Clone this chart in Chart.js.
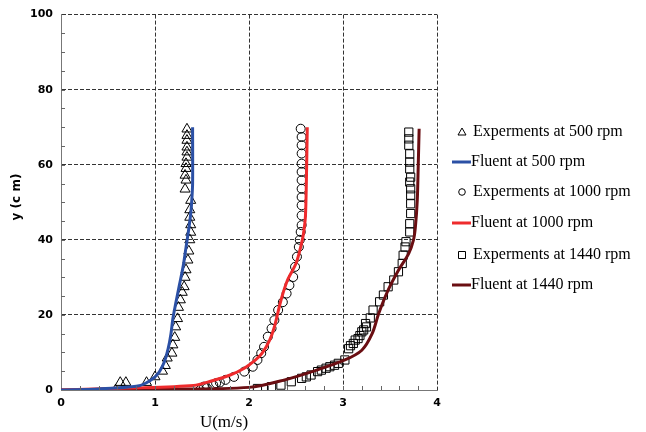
<!DOCTYPE html>
<html>
<head>
<meta charset="utf-8">
<script src="https://cdn.jsdelivr.net/npm/chart.js@4/dist/chart.umd.min.js"></script>
<style>
  body { margin: 0; background: #fff; }
  canvas { display: block; }
</style>
</head>
<body>
<canvas id="chart" width="646" height="432"></canvas>
<script>
// 값은 그림에서 읽은 추정치 (x: U m/s, y: cm)
const exp500X = [0.58, 0.63, 0.69, 0.91, 1.0, 1.08, 1.11, 1.13, 1.18, 1.19, 1.21, 1.22, 1.24, 1.25, 1.27, 1.29, 1.31, 1.32, 1.33, 1.35, 1.36, 1.37, 1.38, 1.38, 1.37, 1.37, 1.38, 1.32, 1.33, 1.32, 1.33, 1.33, 1.34, 1.34, 1.34, 1.34, 1.34, 1.34];
const exp500Y = [0, 2, 2, 2, 3.5, 5, 6.5, 8.5, 9.8, 12, 14, 16.8, 19, 22, 24, 26, 27.5, 30, 32, 34.6, 37, 40, 42, 44, 46, 48, 50.5, 53.5, 55.9, 57.2, 59, 60.3, 62, 63.4, 64.7, 66.5, 67.8, 69.5];

const cfd500X = [0, 0.4, 0.8, 0.9, 1.0, 1.05, 1.1, 1.14, 1.17, 1.19, 1.22, 1.26, 1.3, 1.33, 1.36, 1.38, 1.39, 1.4, 1.4];
const cfd500Y = [0, 0.3, 1, 1.8, 3.5, 5, 7.5, 11, 15, 19, 23, 28, 33, 38, 43, 47, 50, 55, 70];

const exp1000X = [1.48, 1.52, 1.55, 1.62, 1.65, 1.69, 1.75, 1.84, 1.95, 2.04, 2.09, 2.13, 2.16, 2.2, 2.24, 2.27, 2.31, 2.36, 2.4, 2.43, 2.47, 2.49, 2.51, 2.53, 2.54, 2.55, 2.56, 2.56, 2.56, 2.56, 2.56, 2.56, 2.56, 2.56, 2.56, 2.56, 2.56, 2.55];
const exp1000Y = [0, 0.9, 0.5, 1.3, 1.8, 2, 2.7, 3.5, 4.9, 6.2, 8, 9.8, 11.5, 14.2, 16.4, 18.6, 21.3, 23.4, 25.7, 27.9, 30.1, 32.8, 35.5, 38.1, 40, 42.1, 43.9, 46.5, 49.2, 51.4, 53.6, 55.9, 58.1, 60.3, 63, 65.2, 67.4, 69.6];

const cfd1000X = [0, 0.7, 1.41, 1.6, 1.8, 1.95, 2.07, 2.14, 2.22, 2.27, 2.34, 2.41, 2.5, 2.55, 2.58, 2.6, 2.61, 2.62];
const cfd1000Y = [0, 0.5, 1.2, 2.4, 4, 5.8, 8, 9.8, 13.3, 16.8, 23.9, 29.3, 33.7, 38.1, 41.7, 46.1, 55, 70];

const exp1440X = [2.09, 2.24, 2.34, 2.45, 2.56, 2.61, 2.66, 2.73, 2.77, 2.82, 2.86, 2.91, 2.95, 3.02, 3.06, 3.08, 3.11, 3.13, 3.16, 3.18, 3.2, 3.22, 3.25, 3.24, 3.29, 3.32, 3.39, 3.43, 3.48, 3.54, 3.59, 3.63, 3.64, 3.66, 3.67, 3.71, 3.71, 3.72, 3.72, 3.72, 3.72, 3.71, 3.72, 3.71, 3.71, 3.71, 3.7, 3.7, 3.7];
const exp1440Y = [0.4, 0.9, 1.3, 2.2, 3.1, 3.5, 4, 4.9, 5.3, 5.8, 6.2, 6.6, 7.1, 8, 11, 11.8, 12.4, 13.3, 13.7, 14.5, 15.5, 16, 16.8, 17.7, 19.2, 21.3, 23.5, 25.3, 27.5, 29.3, 31.5, 33.7, 35.9, 38.1, 39.5, 42.1, 44.3, 47, 49.6, 51.9, 53.6, 55.4, 56.7, 58.9, 60.7, 62.9, 65.2, 66.9, 68.7];

const cfd1440X = [0, 1.0, 2.0, 2.38, 2.72, 3.02, 3.2, 3.31, 3.38, 3.48, 3.59, 3.7, 3.75, 3.77, 3.79, 3.8, 3.81];
const cfd1440Y = [0, 0.2, 0.7, 2.7, 5.3, 8, 10.6, 15, 20.4, 26.6, 31.9, 36.4, 40, 43.4, 50.5, 59.4, 69.6];

const xTicks = [0, 1, 2, 3, 4];
const yTicks = [0, 20, 40, 60, 80, 100];

const seriesLabels = [
    'Experments at 500 rpm',
    'Fluent at 500 rpm',
    'Experments at 1000 rpm',
    'Fluent at 1000 rpm',
    'Experments at 1440 rpm',
    'Fluent at 1440 rpm'
];

const BLUE = '#2b50a5';
const RED = '#ee2b2d';
const DARK = '#6a0e12';

function toPoints(xs, ys) {
    return xs.map((x, i) => ({ x: x, y: ys[i] }));
}

function markerSet(label, xs, ys, style, r) {
    return {
        label: label,
        data: toPoints(xs, ys),
        showLine: false,
        pointStyle: style,
        pointRadius: r,
        pointBorderWidth: 1,
        pointBorderColor: '#000',
        pointBackgroundColor: 'rgba(255,255,255,0)',
        order: 2
    };
}

function lineSet(label, xs, ys, color) {
    return {
        label: label,
        data: toPoints(xs, ys),
        showLine: true,
        borderColor: color,
        borderWidth: 3,
        tension: 0.3,
        pointRadius: 0,
        order: 1
    };
}

const datasets = [
    markerSet(seriesLabels[0], exp500X, exp500Y, 'triangle', 5.8),
    lineSet(seriesLabels[1], cfd500X, cfd500Y, BLUE),
    markerSet(seriesLabels[2], exp1000X, exp1000Y, 'circle', 4.5),
    lineSet(seriesLabels[3], cfd1000X, cfd1000Y, RED),
    markerSet(seriesLabels[4], exp1440X, exp1440Y, 'rect', 5.8),
    lineSet(seriesLabels[5], cfd1440X, cfd1440Y, DARK)
];

// 보조 눈금, 축 제목, 범례 직접 그림
const extras = {
    id: 'extras',
    afterDraw(chart) {
        const { ctx, chartArea, scales } = chart;
        ctx.save();
        ctx.strokeStyle = '#666';
        ctx.lineWidth = 1;
        for (let v = 5; v < 100; v += 5) {
            const py = Math.round(scales.y.getPixelForValue(v)) + 0.5;
            ctx.beginPath();
            ctx.moveTo(chartArea.left, py);
            ctx.lineTo(chartArea.left + 4, py);
            ctx.stroke();
        }
        for (let i = 1; i < 20; i++) {
            const px = Math.round(scales.x.getPixelForValue(i * 0.2)) + 0.5;
            ctx.beginPath();
            ctx.moveTo(px, chartArea.bottom);
            ctx.lineTo(px, chartArea.bottom - 4);
            ctx.stroke();
        }

        // 축 제목
        ctx.fillStyle = '#000';
        ctx.font = '17px "Liberation Serif"';
        ctx.textAlign = 'center';
        ctx.textBaseline = 'middle';
        ctx.fillText('U(m/s)', 224, 423);

        ctx.save();
        ctx.translate(17, 197);
        ctx.rotate(-Math.PI / 2);
        ctx.font = 'bold 12px "DejaVu Sans"';
        ctx.fillText('y (c m)', 0, 0);
        ctx.restore();

        // 범례
        const rowY = [132, 162, 192, 223, 255, 285];
        ctx.font = '16px "Liberation Serif"';
        ctx.textAlign = 'left';
        chart.data.datasets.forEach((ds, i) => {
            const y = rowY[i];
            if (ds.showLine) {
                ctx.strokeStyle = ds.borderColor;
                ctx.lineWidth = 3;
                ctx.beginPath();
                ctx.moveTo(452, y);
                ctx.lineTo(471, y);
                ctx.stroke();
                ctx.fillStyle = '#000';
                ctx.fillText(ds.label, 471, y);
            } else {
                ctx.strokeStyle = '#000';
                ctx.lineWidth = 1;
                ctx.beginPath();
                const cx = 462;
                if (ds.pointStyle === 'triangle') {
                    ctx.moveTo(cx, y - 4);
                    ctx.lineTo(cx + 4, y + 3);
                    ctx.lineTo(cx - 4, y + 3);
                    ctx.closePath();
                } else if (ds.pointStyle === 'circle') {
                    ctx.arc(cx, y, 3.3, 0, Math.PI * 2);
                } else {
                    ctx.rect(cx - 3.5, y - 3.5, 7, 7);
                }
                ctx.stroke();
                ctx.fillStyle = '#000';
                ctx.fillText(ds.label, 473, y);
            }
        });
        ctx.restore();
    }
};

const tickFont = { family: 'DejaVu Sans', weight: 'bold', size: 11 };

new Chart(document.getElementById('chart'), {
    type: 'scatter',
    data: { datasets: datasets },
    options: {
        responsive: false,
        animation: false,
        layout: { padding: { top: 14, right: 209, left: 0, bottom: 0 } },
        plugins: { legend: { display: false }, tooltip: { enabled: false } },
        scales: {
            x: {
                type: 'linear',
                min: 0,
                max: 4,
                afterFit: s => { s.height = 42; },
                afterBuildTicks: s => { s.ticks = xTicks.map(v => ({ value: v })); },
                ticks: { color: '#000', padding: 7, font: tickFont },
                grid: { color: '#333', lineWidth: 1, drawTicks: false },
                border: { color: '#777', width: 1, dash: [4, 2] }
            },
            y: {
                type: 'linear',
                min: 0,
                max: 100,
                afterFit: s => { s.width = 61; },
                afterBuildTicks: s => { s.ticks = yTicks.map(v => ({ value: v })); },
                ticks: { color: '#000', padding: 8, font: tickFont },
                grid: { color: '#333', lineWidth: 1, drawTicks: false },
                border: { color: '#777', width: 1, dash: [4, 2] }
            }
        }
    },
    plugins: [extras]
});
</script>
</body>
</html>
